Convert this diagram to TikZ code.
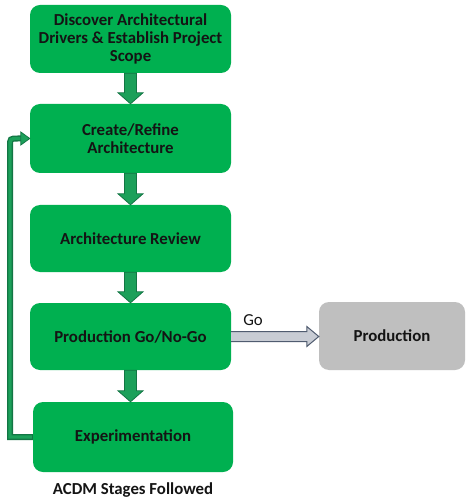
\documentclass[tikz,border=0pt]{standalone}
\usepackage{fontspec}
\setmainfont{Carlito}
\usetikzlibrary{calc}
\definecolor{boxgreen}{RGB}{0,176,80}
\definecolor{arrowgreen}{RGB}{28,160,90}
\definecolor{arrowdark}{RGB}{18,118,68}
\definecolor{prodgray}{RGB}{191,191,191}
\definecolor{gofill}{RGB}{200,204,212}
\definecolor{godraw}{RGB}{80,92,112}
\definecolor{txt}{RGB}{20,20,20}
\tikzset{
  stage/.style={rectangle, rounded corners=10pt, fill=boxgreen, minimum width=201pt,
    align=center, font=\bfseries\fontsize{16.8}{18}\selectfont, text=txt, inner sep=0pt},
  prodbox/.style={stage, fill=prodgray, minimum width=146pt},
  downarrow/.style={fill=arrowgreen, draw=arrowdark, line width=0.8pt, line join=miter},
  goarrow/.style={fill=gofill},
  goedge/.style={draw=godraw, line width=1pt, line join=miter},
  plaintext/.style={font=\fontsize{16.8}{18}\selectfont, text=txt, inner sep=0pt},
  captiontext/.style={font=\bfseries\fontsize{16.8}{18}\selectfont, text=txt, inner sep=0pt}
}
\newcommand{\blockdown}[2]{%
  \filldraw[downarrow] ($(#1.south)+(-6,0)$) -- ($(#1.south |- #2.north)+(-6,-11)$)
    -- ($(#1.south |- #2.north)+(-12.5,-11)$) -- (#1.south |- #2.north)
    -- ($(#1.south |- #2.north)+(12.5,-11)$) -- ($(#1.south |- #2.north)+(6,-11)$)
    -- ($(#1.south)+(6,0)$) -- cycle;}
\begin{document}
\begin{tikzpicture}[x=1pt,y=-1pt]
\useasboundingbox (0,0) rectangle (469,502);
\fill[white] (0,0) rectangle (469,502);

\node[stage, minimum height=68pt] (b1) at (130.5,39) {Discover Architectural\\Drivers \& Establish Project\\Scope};
\node[stage, minimum height=69pt] (b2) at (130.5,138.5) {Create/Refine\\Architecture};
\node[stage, minimum height=67pt] (b3) at (130.5,238.5) {Architecture Review};
\node[stage, minimum height=67pt] (b4) at (130.5,336.5) {Production Go/No-Go};
\node[stage, minimum height=70pt, minimum width=200pt] (b5) at (133,437) {Experimentation};
\node[prodbox, minimum height=68pt] (prod) at (392,336) {Production};

\blockdown{b1}{b2}
\blockdown{b2}{b3}
\blockdown{b3}{b4}
\blockdown{b4}{b5}

% Go arrow
\coordinate (gotip) at (b4.east -| prod.west);
\fill[goarrow] ($(b4.east)+(0,-5)$) -- ($(gotip)+(-12,-5)$) -- ($(gotip)+(-12,-10)$) -- (gotip)
  -- ($(gotip)+(-12,10)$) -- ($(gotip)+(-12,5)$) -- ($(b4.east)+(0,5)$) -- cycle;
\draw[goedge] ($(b4.east)+(0,-5)$) -- ($(gotip)+(-12,-5)$) -- ($(gotip)+(-12,-10)$) -- (gotip)
  -- ($(gotip)+(-12,10)$) -- ($(gotip)+(-12,5)$) -- ($(b4.east)+(0,5)$);
\node[plaintext] (go) at (253,320) {Go};

% feedback loop
\coordinate (lx) at (10,0);
\draw[line width=6pt, arrowdark] (b5.west) -- (lx |- b5.west) -- ($(lx |- b2.west)+(0,8)$)
  .. controls (lx |- b2.west) .. ($(lx |- b2.west)+(8,0)$) -- ($(b2.west)+(-8,0)$);
\draw[line width=3.4pt, arrowgreen] ($(b5.west)+(-1,0)$) -- (lx |- b5.west) -- ($(lx |- b2.west)+(0,8)$)
  .. controls (lx |- b2.west) .. ($(lx |- b2.west)+(8,0)$) -- ($(b2.west)+(-8,0)$);
\filldraw[downarrow] (b2.west) -- ($(b2.west)+(-9,-6.5)$) -- ($(b2.west)+(-9,6.5)$) -- cycle;

\node[captiontext] (cap) at (133,490) {ACDM Stages Followed};
\end{tikzpicture}
\end{document}
